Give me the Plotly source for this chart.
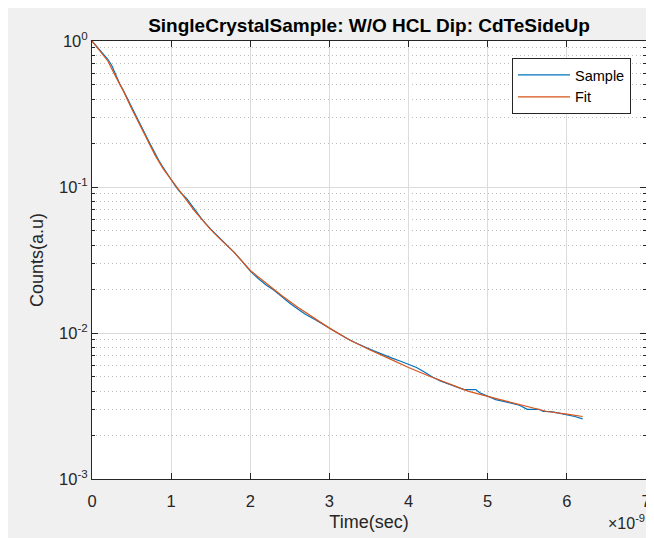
import plotly.graph_objects as go

# ---- data (time in ns, displayed with x10^-9 multiplier) ----
fit_t = [0, 0.1, 0.2, 0.3, 0.4, 0.5, 0.6, 0.7, 0.8, 0.9, 1.0, 1.1, 1.2, 1.3, 1.4, 1.5,
         1.6, 1.8, 2.0, 2.2, 2.4, 2.6, 2.8, 3.0, 3.25, 3.5, 3.75, 4.0, 4.25, 4.5,
         4.75, 5.0, 5.25, 5.5, 5.75, 6.0, 6.2]
fit_y = [1.0, 0.86, 0.73, 0.57, 0.45, 0.345, 0.267, 0.207, 0.164, 0.133, 0.112,
         0.095, 0.081, 0.068, 0.059, 0.051, 0.045, 0.0355, 0.0268, 0.0218, 0.0180,
         0.0150, 0.0127, 0.0108, 0.0090, 0.0077, 0.0067, 0.0058, 0.0051, 0.0045,
         0.0040, 0.00368, 0.0034, 0.00315, 0.0029, 0.00278, 0.00268]

sample_t = [0.0, 0.05, 0.1, 0.15, 0.2, 0.25, 0.3, 0.35, 0.4, 0.45, 0.5, 0.55, 0.6,
            0.65, 0.7, 0.75, 0.8, 0.85, 0.9, 0.95, 1.0, 1.05, 1.1, 1.15, 1.2, 1.25,
            1.3, 1.35, 1.4, 1.5, 1.6, 1.7, 1.8, 1.9, 2.0, 2.1, 2.2, 2.3, 2.4, 2.5,
            2.6, 2.7, 2.8, 2.9, 3.0, 3.1, 3.2, 3.3, 3.4, 3.5, 3.6, 3.7, 3.8, 3.9,
            4.0, 4.1, 4.2, 4.3, 4.4, 4.5, 4.6, 4.7, 4.75, 4.85, 4.9, 5.0, 5.1, 5.2,
            5.3, 5.4, 5.5, 5.6, 5.65, 5.7, 5.8, 5.9, 6.0, 6.1, 6.2]
sample_y = [1.0, 0.93, 0.86, 0.80, 0.75, 0.68, 0.585, 0.51, 0.455, 0.40, 0.355,
            0.31, 0.277, 0.245, 0.215, 0.19, 0.168, 0.150, 0.136, 0.123, 0.112,
            0.102, 0.094, 0.088, 0.083, 0.076, 0.070, 0.064, 0.059, 0.0515, 0.0455,
            0.040, 0.0355, 0.0308, 0.0265, 0.0236, 0.0213, 0.0196, 0.0176, 0.0160,
            0.0146, 0.0134, 0.0125, 0.0116, 0.0107, 0.0100, 0.0093, 0.0087, 0.0082,
            0.0078, 0.0074, 0.0070, 0.0067, 0.0064, 0.0061, 0.0058, 0.0054, 0.0050,
            0.0047, 0.0045, 0.0043, 0.0041, 0.0041, 0.0041, 0.0039, 0.0037, 0.0035,
            0.0034, 0.0033, 0.0032, 0.0030, 0.0030, 0.0030, 0.0029, 0.00289,
            0.00283, 0.00277, 0.00268, 0.00258]

x_ticks = [0, 1, 2, 3, 4, 5, 6, 7]
y_ticks = [1e-3, 1e-2, 1e-1, 1]
y_tick_text = ["10<sup>-3</sup>", "10<sup>-2</sup>", "10<sup>-1</sup>", "10<sup>0</sup>"]
y_minor = [m * 10 ** e for e in (-3, -2, -1) for m in range(2, 10)]

FONT = "Liberation Sans, Arial, Helvetica, sans-serif"
AX = "#262626"

W, H = 654, 538
L, R, T, B = 84, 16, 33, 67
PW, PH = W - L - R, H - T - B

fig = go.Figure()
fig.add_trace(go.Scatter(x=sample_t, y=sample_y, mode="lines", name="Sample",
                         line=dict(color="#0072BD", width=1.2)))
fig.add_trace(go.Scatter(x=fit_t, y=fit_y, mode="lines", name="Fit",
                         line=dict(color="#D95319", width=1.2)))

fig.update_layout(
    width=W, height=H,
    margin=dict(l=L, r=R, t=T, b=B, autoexpand=False),
    paper_bgcolor="#f0f0f0", plot_bgcolor="white",
    font=dict(family=FONT, size=16, color=AX),
    title=dict(text="<b>SingleCrystalSample: W/O HCL Dip: CdTeSideUp</b>",
               x=0.5, xref="paper", xanchor="center",
               y=1 - 17 / H, yref="container", yanchor="middle",
               font=dict(size=19, color="black", family=FONT)),
    showlegend=True,
    legend=dict(x=(623 - L) / PW, xanchor="right", y=(H - B - 50) / PH, yanchor="top",
                bgcolor="white", bordercolor=AX, borderwidth=1,
                font=dict(size=14.5, color="black", family=FONT),
                itemwidth=52, tracegroupgap=0),
)

fig.update_xaxes(
    range=[0, 7], tickvals=x_ticks, ticktext=[str(v) for v in x_ticks],
    automargin=False,
    showline=True, linecolor=AX, linewidth=1, mirror="ticks",
    ticks="inside", ticklen=6, tickcolor=AX, tickfont=dict(size=16.5),
    ticklabelstandoff=7,
    showgrid=True, gridcolor="#dcdcdc", gridwidth=1, zeroline=False,
    title=dict(text="Time(sec)", font=dict(size=18, color=AX), standoff=6),
)
fig.update_yaxes(
    type="log", range=[-3, 0], tickvals=y_ticks, ticktext=y_tick_text,
    automargin=False,
    showline=True, linecolor=AX, linewidth=1, mirror="ticks",
    ticks="inside", ticklen=6, tickcolor=AX, tickfont=dict(size=16.5),
    showgrid=True, gridcolor="#dcdcdc", gridwidth=1, zeroline=False,
    minor=dict(tickvals=y_minor, ticks="inside", ticklen=3, tickcolor=AX,
               showgrid=True, gridcolor="#bdbdbd", griddash="1px,3px", gridwidth=1),
    title=dict(text="Counts(a.u)", font=dict(size=18, color=AX), standoff=10),
)

fig.add_annotation(text="×10<sup>-9</sup>", xref="paper", yref="paper",
                   x=1.0, y=-(514 - (H - B)) / PH,
                   xanchor="right", yanchor="middle", xshift=1,
                   showarrow=False, font=dict(size=16, color=AX, family=FONT))

fig.write_html("out.html")
